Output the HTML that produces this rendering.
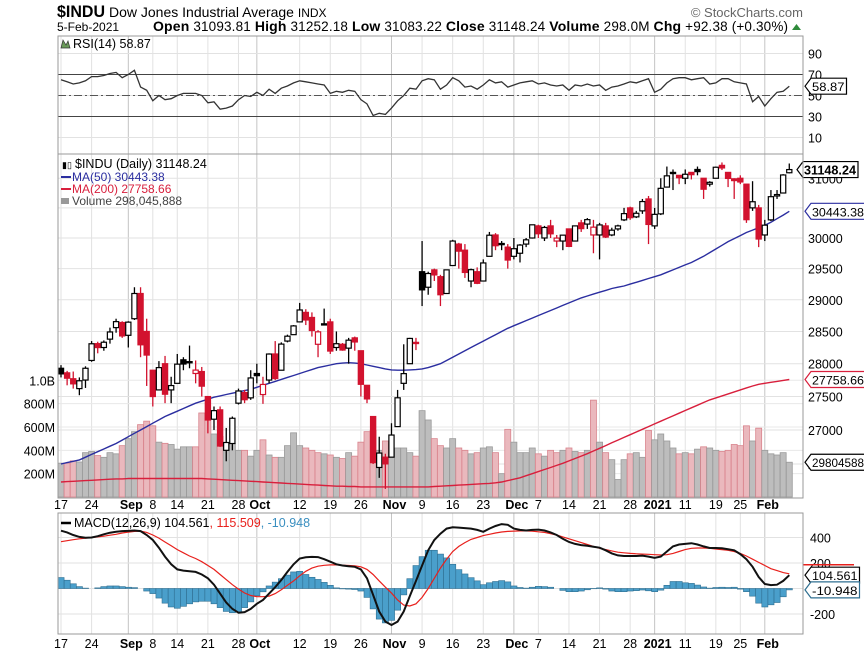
<!DOCTYPE html>
<html><head><meta charset="utf-8">
<style>
html,body{margin:0;padding:0;background:#fff;}
body{width:864px;height:654px;overflow:hidden;font-family:"Liberation Sans",Arial,sans-serif;}
svg text{font-family:"Liberation Sans",Arial,sans-serif;}
</style></head>
<body>
<svg id="chart" width="864" height="654" viewBox="0 0 864 654" xmlns="http://www.w3.org/2000/svg">
  <g>
    <text x="57" y="17" font-size="17" font-weight="bold" fill="#000" textLength="48" lengthAdjust="spacingAndGlyphs">$INDU</text>
    <text x="109" y="17" font-size="14" fill="#000">Dow Jones Industrial Average <tspan font-size="12">INDX</tspan></text>
    <text x="57" y="31" font-size="12" fill="#000">5-Feb-2021</text>
    <text x="153" y="31" font-size="13.5" fill="#000" textLength="635" lengthAdjust="spacing"><tspan font-weight="bold" font-size="14">Open</tspan> 31093.81  <tspan font-weight="bold" font-size="14">High</tspan> 31252.18  <tspan font-weight="bold" font-size="14">Low</tspan> 31083.22  <tspan font-weight="bold" font-size="14">Close</tspan> 31148.24  <tspan font-weight="bold" font-size="14">Volume</tspan> 298.0M  <tspan font-weight="bold" font-size="14">Chg</tspan> +92.38 (+0.30%)</text>
    <polygon points="792,30 801,30 796.5,24" fill="#2e8b3a"/>
    <text x="803" y="17" font-size="13" fill="#666" text-anchor="end">© StockCharts.com</text>
  </g>
  <g id="layer"></g>
</svg>
<script>
// ---- data ----
const dates = ["Aug17","Aug18","Aug19","Aug20","Aug21","Aug24","Aug25","Aug26","Aug27","Aug28","Aug31","Sep1","Sep2","Sep3","Sep4","Sep8","Sep9","Sep10","Sep11","Sep14","Sep15","Sep16","Sep17","Sep18","Sep21","Sep22","Sep23","Sep24","Sep25","Sep28","Sep29","Sep30","Oct1","Oct2","Oct5","Oct6","Oct7","Oct8","Oct9","Oct12","Oct13","Oct14","Oct15","Oct16","Oct19","Oct20","Oct21","Oct22","Oct23","Oct26","Oct27","Oct28","Oct29","Oct30","Nov2","Nov3","Nov4","Nov5","Nov6","Nov9","Nov10","Nov11","Nov12","Nov13","Nov16","Nov17","Nov18","Nov19","Nov20","Nov23","Nov24","Nov25","Nov27","Nov30","Dec1","Dec2","Dec3","Dec4","Dec7","Dec8","Dec9","Dec10","Dec11","Dec14","Dec15","Dec16","Dec17","Dec18","Dec21","Dec22","Dec23","Dec24","Dec28","Dec29","Dec30","Dec31","Jan4","Jan5","Jan6","Jan7","Jan8","Jan11","Jan12","Jan13","Jan14","Jan15","Jan19","Jan20","Jan21","Jan22","Jan25","Jan26","Jan27","Jan28","Jan29","Feb1","Feb2","Feb3","Feb4","Feb5"];
const opens = [27930,27860,27770,27620,27750,28050,28310,28250,28380,28560,28640,28440,28700,29100,28500,27900,27600,28000,27600,27700,28060,28030,27850,27880,27500,27160,27300,26700,26800,27400,27560,27480,27850,27530,27750,28150,27900,28350,28450,28650,28800,28720,28300,28620,28650,28250,28300,28240,28400,28200,27670,27200,26450,26600,26600,27050,27700,28000,28330,29450,29200,29480,29370,29100,29550,29900,29800,29300,29450,29300,29700,30050,29900,29850,29700,29750,29900,30000,30200,30000,30200,29950,29950,30150,29950,30250,30230,30050,30050,30200,30050,30150,30300,30500,30350,30450,30650,30200,30400,30850,31100,31050,31000,31100,31150,31000,30900,31000,31220,31100,30990,31000,30900,30500,30500,30050,30300,30700,30750,31094];
const highs = [27978,27890,27880,27790,27960,28350,28340,28360,28560,28700,28660,28660,29200,29200,28700,27900,28040,28120,27800,28150,28100,28280,28050,27950,27500,27350,27350,27030,27200,27620,27600,27900,28000,27800,28160,28350,28330,28450,28600,28950,28850,28800,28520,28860,28700,28500,28320,28400,28420,28200,27670,27200,26900,26650,27100,27600,28300,28400,28400,29950,29450,29500,29400,29480,29970,29920,29900,29500,29520,29650,30100,30080,29950,29900,30000,29900,30000,30220,30220,30200,30300,30050,30050,30150,30200,30300,30330,30300,30250,30250,30170,30220,30500,30520,30450,30650,30700,30500,31000,31200,31150,31050,31150,31100,31200,31000,30950,31200,31270,31100,31000,31050,30900,30950,30550,30300,30800,30800,31070,31252];
const lows = [27790,27670,27620,27520,27630,28030,28160,28200,28310,28480,28400,28250,28680,28100,27660,27350,27600,27400,27400,27700,27900,27930,27700,27500,26950,27000,26750,26540,26700,27380,27400,27450,27700,27390,27700,27750,27900,28330,28450,28650,28600,28420,28100,28600,28150,28200,28200,28000,28200,27500,27400,26500,26300,26140,26600,27050,27600,28000,28210,28900,29080,29300,28900,29100,29550,29500,29350,29200,29250,29300,29700,29800,29800,29500,29650,29600,29850,29990,30000,29950,30000,29850,29800,29850,29950,30100,30150,29750,29650,30000,30030,30120,30280,30300,30330,30400,29900,30150,30380,30850,30800,30900,30900,30980,31050,30650,30860,31000,31140,30850,30650,30900,30250,30450,29850,29950,30280,30650,30750,31083];
const closes = [27844,27778,27692,27739,27930,28308,28249,28332,28492,28654,28430,28646,29100,28292,28133,27500,27940,27535,27666,27993,27995,28032,27902,27657,27148,27288,26763,26815,27174,27584,27452,27782,27817,27683,28149,27773,28303,28426,28587,28838,28680,28515,28494,28606,28195,28309,28211,28364,28336,27685,27464,26520,26660,26502,26925,27481,27848,28391,28323,29158,29421,29398,29080,29480,29950,29784,29438,29483,29263,29592,30046,29873,29910,29639,29824,29884,29970,30218,30070,30174,30069,29999,30047,29862,30200,30155,30304,30179,30216,30016,30129,30200,30404,30336,30410,30606,30224,30392,30829,31041,31098,31009,31068,31061,31113,30814,30931,31188,31176,30997,30960,30937,30303,30603,29983,30212,30688,30724,31056,31148];
const volumes = [290,290,310,300,380,390,355,340,380,370,440,500,560,620,650,610,470,460,450,410,430,430,430,720,680,540,520,430,460,400,400,350,400,490,360,340,340,440,550,440,420,400,380,370,360,340,330,380,350,470,560,570,400,480,380,420,420,380,350,740,660,500,440,420,500,420,400,370,380,420,430,380,200,580,470,380,380,420,370,350,400,380,400,420,390,380,400,830,470,380,320,150,320,370,380,340,570,490,540,480,420,370,380,370,410,430,420,400,390,400,450,440,610,480,590,400,370,360,380,298];
const ma50 = [26500,26520,26540,26560,26600,26640,26680,26720,26760,26800,26850,26900,26950,27000,27050,27100,27150,27200,27240,27280,27320,27360,27400,27430,27460,27490,27510,27530,27550,27570,27590,27610,27640,27670,27700,27730,27760,27790,27820,27850,27880,27910,27940,27960,27980,28000,28010,28015,28010,28000,27980,27960,27940,27920,27905,27900,27900,27905,27910,27920,27940,27970,28000,28050,28100,28150,28200,28250,28300,28350,28400,28450,28500,28550,28590,28630,28670,28710,28750,28790,28830,28870,28910,28950,28990,29030,29060,29090,29120,29150,29180,29200,29220,29250,29280,29310,29340,29370,29400,29440,29480,29520,29560,29600,29650,29700,29760,29820,29880,29940,29990,30040,30090,30130,30170,30210,30260,30320,30380,30443];
const ma200 = [26240,26245,26250,26255,26260,26265,26270,26275,26280,26285,26285,26290,26290,26290,26290,26290,26290,26290,26290,26290,26290,26290,26290,26290,26285,26280,26275,26270,26265,26260,26255,26250,26245,26240,26235,26230,26225,26220,26215,26210,26205,26200,26195,26190,26185,26180,26180,26175,26175,26170,26170,26170,26170,26170,26170,26170,26170,26170,26170,26170,26170,26175,26180,26185,26190,26195,26200,26205,26210,26215,26220,26228,26240,26260,26280,26300,26330,26360,26390,26420,26450,26480,26510,26545,26580,26615,26650,26690,26730,26770,26810,26850,26890,26930,26970,27010,27050,27090,27130,27170,27210,27250,27290,27330,27370,27410,27450,27480,27510,27540,27570,27600,27630,27660,27685,27700,27715,27730,27745,27758.66];
const rsi = [65,63,61,62,64,68,68,69,71,72,67,70,74,58,55,45,50,46,47,50,52,52,52,50,43,44,37,38,40,46,50,49,53,50,56,52,57,59,62,64,63,62,61,60,52,54,53,55,54,46,42,31,33,32,38,45,50,57,56,64,66,65,56,60,67,64,58,59,56,60,65,62,63,58,60,62,63,64,61,62,60,59,60,55,60,59,61,59,60,55,58,59,61,63,62,64,66,53,56,62,66,67,67,65,66,67,61,62,66,66,63,62,61,44,49,40,47,53,54,58.87];
const macd = [453,440,420,405,398,400,410,425,438,445,450,452,455,450,420,380,320,250,190,150,140,135,130,110,80,30,-40,-110,-160,-190,-185,-160,-120,-90,-40,10,67,130,190,235,245,248,246,230,210,190,180,175,170,150,80,-50,-180,-260,-286,-260,-180,-60,60,180,300,380,430,470,480,478,474,470,460,445,470,490,505,500,470,460,455,460,462,455,440,420,390,365,350,340,335,328,320,300,275,260,255,255,255,258,250,240,250,290,330,345,350,355,345,330,318,318,315,308,300,270,230,170,90,35,27,30,60,104.561];
const signal = [367,375,383,390,395,400,405,410,418,425,435,442,448,450,440,420,395,365,335,305,280,255,235,210,180,150,110,70,30,-5,-35,-55,-64,-64,-60,-40,-10,25,60,100,135,160,175,182,185,185,183,180,178,170,150,110,60,10,-36,-90,-130,-137,-120,-70,0,80,160,230,290,330,360,385,400,415,425,435,443,448,450,452,452,450,445,440,430,420,405,390,375,360,345,330,315,305,295,285,280,275,272,270,268,265,263,265,275,290,305,315,318,318,315,310,305,300,290,275,255,230,205,180,155,140,125,115.509];
const priceTicks = [31000,30500,30000,29500,29000,28500,28000,27500,27000,26500];
const volTicks = [200,400,600,800,1000];
const volTickLabels = ["200M","400M","600M","800M","1.0B"];
const rsiTicks = [90,70,50,30,10];
const macdTicks = [400,200,-200];
const dateTickIdx = [0,5,11,15,19,24,29,32,39,44,49,54,59,64,69,74,78,83,88,93,97,102,107,111,115];
const dateTickLabels = ["17","24","Sep","8","14","21","28","Oct","12","19","26","Nov","9","16","23","Dec","7","14","21","28","2021","11","19","25","Feb"];
const majorTicks = ["Sep","Oct","Nov","Dec","2021","Feb"];

// ---- geometry ----
const L = 58, R = 803;
const X0 = 61, DX = 6.12;
const xi = i => X0 + DX * i;
const yP = p => 238 - 1822 * Math.log(p / 30000);
const yV = v => 497 - v * 0.1167;
const yR = r => 95.5 - (r - 50) * 1.05;
const yM = m => 588.5 - m * 0.1275;
const NS = "http://www.w3.org/2000/svg";
const layer = document.getElementById('layer');
function mk(tag, attrs, parent) {
  const e = document.createElementNS(NS, tag);
  for (const k in attrs) e.setAttribute(k, attrs[k]);
  (parent || layer).appendChild(e);
  return e;
}
function txt(x, y, s, attrs, parent) {
  const t = mk('text', Object.assign({x: x, y: y}, attrs), parent);
  t.textContent = s;
  return t;
}
function group(name) {
  const g = mk('g', {});
  
  
  return g;
}
function poly(vals, yf) {
  return vals.map((v, i) => xi(i).toFixed(1) + ',' + yf(v).toFixed(1)).join(' ');
}
function tag(x, y, s, stroke, g, bold) {
  const w = s.length * 6.5 + 3;
  mk('polygon', {points: `${x},${y} ${x+6},${y-8} ${x+6+w},${y-8} ${x+6+w},${y+8} ${x+6},${y+8}`, fill: '#fff', stroke: stroke, 'stroke-width': 1.2}, g);
  const t = txt(x + 7, y + 5, s, {'font-size': bold ? 13 : 12, 'font-weight': bold ? 'bold' : 'normal', fill: '#000', textLength: w - 3, lengthAdjust: 'spacingAndGlyphs'}, g);
}

// ---- panels / grid ----
const panels = [{n:'rsi-panel', y1:36, y2:154}, {n:'price-panel', y1:154, y2:498}, {n:'macd-panel', y1:513, y2:634}];
const grid = group('grid');
panels.forEach(p => {
  dateTickIdx.forEach((di, k) => {
    const maj = majorTicks.includes(dateTickLabels[k]);
    mk('line', {x1: xi(di), x2: xi(di), y1: p.y1, y2: p.y2, stroke: maj ? '#c4c4c4' : '#e2e2e2', 'stroke-width': 1}, grid);
  });
});
priceTicks.forEach(t => mk('line', {x1: L, x2: R, y1: yP(t), y2: yP(t), stroke: '#e2e2e2'}, grid));
volTicks.forEach(t => mk('line', {x1: L, x2: R, y1: yV(t), y2: yV(t), stroke: '#e8e8e8'}, grid));
rsiTicks.forEach(t => mk('line', {x1: L, x2: R, y1: yR(t), y2: yR(t), stroke: '#e2e2e2'}, grid));
[400,200,0,-200].forEach(t => mk('line', {x1: L, x2: R, y1: yM(t), y2: yM(t), stroke: '#e2e2e2'}, grid));

// ---- RSI ----
const rg = group('rsi-chart');
mk('line', {x1: L, x2: R, y1: yR(70), y2: yR(70), stroke: '#444', 'stroke-width': 1}, rg);
mk('line', {x1: L, x2: R, y1: yR(30), y2: yR(30), stroke: '#444', 'stroke-width': 1}, rg);
mk('line', {x1: L, x2: R, y1: yR(50), y2: yR(50), stroke: '#555', 'stroke-dasharray': '8,3,2,3'}, rg);
const rl = mk('polyline', {points: poly(rsi, yR), fill: 'none', stroke: '#333', 'stroke-width': 1.3}, rg);


rsiTicks.forEach(t => txt(808, yR(t) + 5, String(t), {'font-size': 12.5, fill: '#000'}, rg));
mk('path', {d: 'M61,48 L63,40 L66,45 L68,41 L70,48 Z', fill: '#6a9a5a', stroke: '#333', 'stroke-width': 0.7}, rg);
txt(73, 48, 'RSI(14) 58.87', {'font-size': 12.5, fill: '#000'}, rg);
tag(805, yR(58.87), '58.87', '#000', rg, false);

// ---- volume ----
const vg = group('volume-bars');
volumes.forEach((v, i) => {
  const down = i > 0 && closes[i] < closes[i-1];
  const r = mk('rect', {x: xi(i) - 3, y: yV(v), width: 6, height: 497 - yV(v), fill: down ? '#eab8bd' : '#bdbdbd', stroke: down ? '#d9848d' : '#9a9a9a', 'stroke-width': 0.8}, vg);
  
  
});
volTicks.forEach((t, k) => txt(55, yV(t) + 5, volTickLabels[k], {'font-size': 12.5, fill: '#000', 'text-anchor': 'end'}, vg));

// ---- moving averages ----
const mg = group('moving-averages');
const m50 = mk('polyline', {points: poly(ma50, yP), fill: 'none', stroke: '#2b2ea0', 'stroke-width': 1.4}, mg);


const m200 = mk('polyline', {points: poly(ma200, yP), fill: 'none', stroke: '#d81f3c', 'stroke-width': 1.4}, mg);



// ---- candles ----
const cg = group('candlesticks');
closes.forEach((c, i) => {
  const o = opens[i];
  const down = i > 0 && c < closes[i-1];
  const col = down ? '#d2122e' : '#000';
  const g = mk('g', {}, cg);
  
  
  mk('line', {x1: xi(i), x2: xi(i), y1: yP(highs[i]), y2: yP(lows[i]), stroke: col, 'stroke-width': 1.3}, g);
  const top = yP(Math.max(o, c)), bot = yP(Math.min(o, c));
  const hollow = c >= o;
  mk('rect', {x: xi(i) - 2.6, y: top, width: 5.2, height: Math.max(1.2, bot - top), fill: hollow ? '#fff' : col, stroke: col, 'stroke-width': 1.2}, g);
});

// ---- price axis ----
const pa = group('price-axis');
priceTicks.forEach(t => txt(808, yP(t) + 5, String(t), {'font-size': 12.5, fill: '#000'}, pa));
tag(805, yP(ma50[ma50.length-1]), '30443.38', '#2b2ea0', pa, false);
tag(805, yP(ma200[ma200.length-1]), '27758.66', '#d81f3c', pa, false);
tag(805, yV(volumes[volumes.length-1]), '29804588', '#000', pa, false);
tag(797, yP(closes[closes.length-1]), '31148.24', '#000', pa, true);

// legend
const lg = group('price-legend');
txt(62, 168, '\u25AE\u25AF', {'font-size': 9, fill: '#000'}, lg);
txt(75, 168, '$INDU (Daily) 31148.24', {'font-size': 12.5, fill: '#000'}, lg);
mk('line', {x1: 61, x2: 71, y1: 177, y2: 177, stroke: '#2b2ea0', 'stroke-width': 2}, lg);
txt(72, 181, 'MA(50) 30443.38', {'font-size': 12, fill: '#2b2ea0'}, lg);
mk('line', {x1: 61, x2: 71, y1: 189, y2: 189, stroke: '#d81f3c', 'stroke-width': 2}, lg);
txt(72, 193, 'MA(200) 27758.66', {'font-size': 12, fill: '#d81f3c'}, lg);
mk('rect', {x: 61, y: 198, width: 8, height: 6, fill: '#999'}, lg);
txt(72, 205, 'Volume 298,045,888', {'font-size': 12, fill: '#444'}, lg);

// ---- MACD ----
const mcg = group('macd-chart');
macd.forEach((m, i) => {
  const h = m - signal[i];
  const y0 = yM(0), y1 = yM(h);
  const r = mk('rect', {x: xi(i) - 3, y: Math.min(y0, y1), width: 6.1, height: Math.abs(y1 - y0), fill: '#4a9fcb', stroke: '#2f6f91', 'stroke-width': 0.6}, mcg);
  
  
});
const sl = mk('polyline', {points: poly(signal, yM), fill: 'none', stroke: '#e8201c', 'stroke-width': 1.2}, mcg);


const ml = mk('polyline', {points: poly(macd, yM), fill: 'none', stroke: '#111', 'stroke-width': 2}, mcg);


macdTicks.forEach(t => txt(810, yM(t) + 5, String(t), {'font-size': 12.5, fill: '#000'}, mcg));
mk('line', {x1: 803, x2: 854, y1: yM(signal[signal.length-1]) - 9, y2: yM(signal[signal.length-1]) - 9, stroke: '#e8201c', 'stroke-width': 1.5}, mcg);
tag(805, yM(104.561), '104.561', '#000', mcg, false);
tag(805, yM(-10.948), '-10.948', '#2f6f91', mcg, false);
mk('line', {x1: 61, x2: 71, y1: 523, y2: 523, stroke: '#000', 'stroke-width': 2.5}, mcg);
const ml2 = txt(74, 527, '', {'font-size': 12.5}, mcg);
ml2.innerHTML = '<tspan fill="#000">MACD(12,26,9) 104.561</tspan><tspan fill="#e8201c">, 115.509</tspan><tspan fill="#3a8fc0">, -10.948</tspan>';

// ---- borders ----
const bg = group('panel-borders');
panels.forEach(p => mk('rect', {x: L, y: p.y1, width: R - L, height: p.y2 - p.y1, fill: 'none', stroke: '#999', 'stroke-width': 1}, bg));

// ---- date axes ----
[509, 648].forEach((yy, a) => {
  const g = group(a ? 'bottom-date-axis' : 'middle-date-axis');
  dateTickIdx.forEach((di, k) => {
    const lab = dateTickLabels[k];
    const maj = majorTicks.includes(lab);
    txt(xi(di) + (maj ? 3 : 0), yy, lab, {'font-size': 12.5, 'font-weight': maj ? 'bold' : 'normal', fill: '#000', 'text-anchor': 'middle'}, g);
  });
});
</script>
</body></html>
